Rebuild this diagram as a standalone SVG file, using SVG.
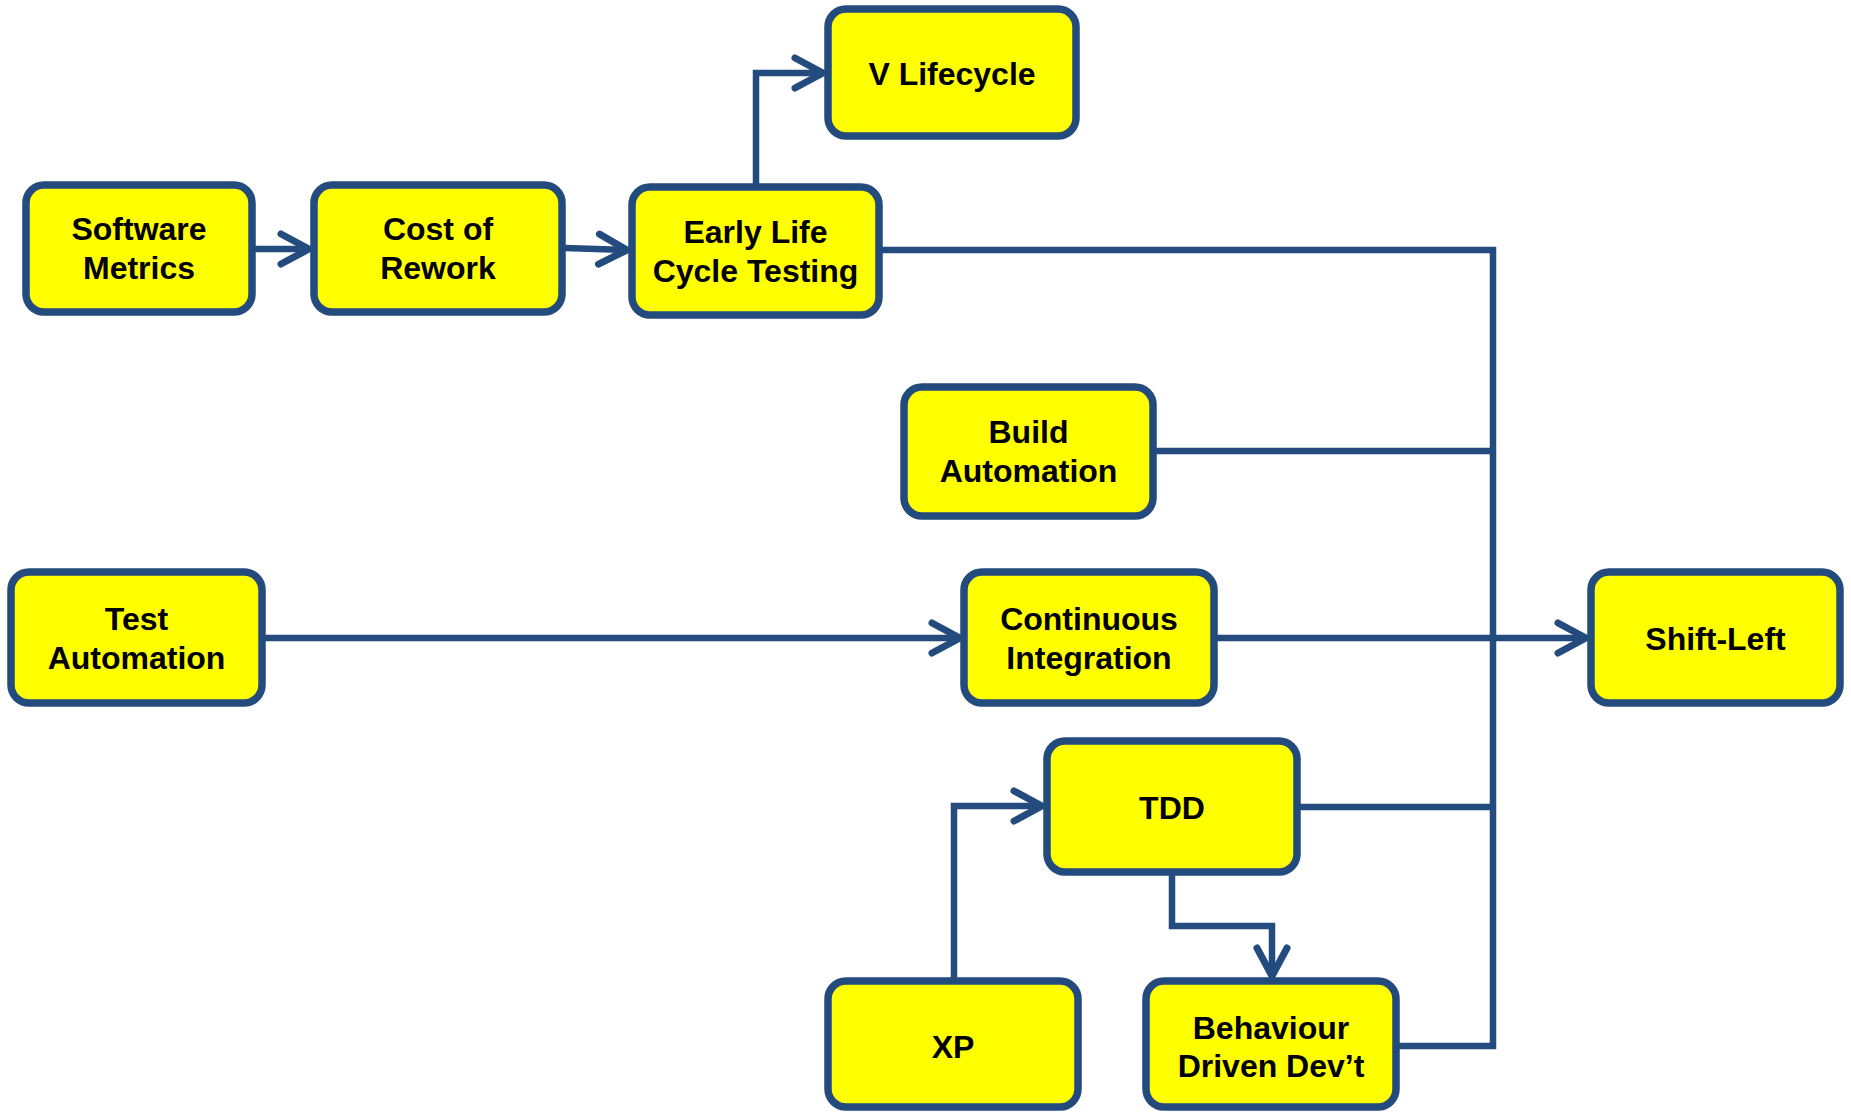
<svg xmlns="http://www.w3.org/2000/svg" width="1851" height="1112" viewBox="0 0 1851 1112">
  <style>
    .box { fill: #FFFF00; stroke: #234B7E; stroke-width: 7.5; }
    .lbl { font-family: "Liberation Sans", Arial, sans-serif; font-weight: bold; font-size: 32px; fill: #000; text-anchor: middle; }
    .wire { fill: none; stroke: #234B7E; stroke-width: 6.5; stroke-linejoin: miter; }
  </style>
  <defs>
    <marker id="arr" viewBox="-34 -20 38 40" refX="0" refY="0" markerWidth="38" markerHeight="40" markerUnits="userSpaceOnUse" orient="auto">
      <path d="M-28,-15 L0,0 L-28,15" fill="none" stroke="#234B7E" stroke-width="7" stroke-linecap="round" stroke-linejoin="round"/>
    </marker>
  </defs>
  <rect width="1851" height="1112" fill="#FFFFFF"/>

  <!-- connectors -->
  <g id="connectors">
    <path class="wire" d="M255,249 L309,249" marker-end="url(#arr)"/>
    <path class="wire" d="M565,248 L627,250" marker-end="url(#arr)"/>
    <path class="wire" d="M756,184 L756,73 L823,73" marker-end="url(#arr)"/>
    <path class="wire" d="M262,638 L960,638" marker-end="url(#arr)"/>
    <path class="wire" d="M1216,638 L1586,638" marker-end="url(#arr)"/>
    <!-- shared bus into Shift-Left -->
    <path class="wire" d="M882,250 L1493,250 L1493,1046 L1398,1046"/>
    <path class="wire" d="M1155,451 L1493,451"/>
    <path class="wire" d="M1298,807 L1493,807"/>
    <path class="wire" d="M954,978 L954,806 L1042,806" marker-end="url(#arr)"/>
    <path class="wire" d="M1172,875 L1172,926 L1272,926 L1272,976" marker-end="url(#arr)"/>
  </g>

  <g id="software-metrics">
    <rect class="box" x="26" y="185" width="226" height="127" rx="18"/>
    <text class="lbl" x="139" y="240">Software</text>
    <text class="lbl" x="139" y="279">Metrics</text>
  </g>
  <g id="cost-of-rework">
    <rect class="box" x="314" y="185" width="248" height="127" rx="18"/>
    <text class="lbl" x="438" y="240">Cost of</text>
    <text class="lbl" x="438" y="279">Rework</text>
  </g>
  <g id="early-life-cycle-testing">
    <rect class="box" x="632" y="187" width="247" height="128" rx="18"/>
    <text class="lbl" x="755.5" y="243">Early Life</text>
    <text class="lbl" x="755.5" y="282">Cycle Testing</text>
  </g>
  <g id="v-lifecycle">
    <rect class="box" x="828" y="9" width="248" height="127" rx="18"/>
    <text class="lbl" x="952" y="85">V Lifecycle</text>
  </g>
  <g id="build-automation">
    <rect class="box" x="904" y="387" width="249" height="129" rx="18"/>
    <text class="lbl" x="1028.5" y="443">Build</text>
    <text class="lbl" x="1028.5" y="482">Automation</text>
  </g>
  <g id="test-automation">
    <rect class="box" x="11" y="572" width="251" height="131" rx="18"/>
    <text class="lbl" x="136.5" y="630">Test</text>
    <text class="lbl" x="136.5" y="669">Automation</text>
  </g>
  <g id="continuous-integration">
    <rect class="box" x="964" y="572" width="250" height="131" rx="18"/>
    <text class="lbl" x="1089" y="630">Continuous</text>
    <text class="lbl" x="1089" y="669">Integration</text>
  </g>
  <g id="shift-left">
    <rect class="box" x="1591" y="572" width="249" height="131" rx="18"/>
    <text class="lbl" x="1715.5" y="650">Shift-Left</text>
  </g>
  <g id="tdd">
    <rect class="box" x="1047" y="741" width="250" height="131" rx="18"/>
    <text class="lbl" x="1172" y="819">TDD</text>
  </g>
  <g id="xp">
    <rect class="box" x="828" y="981" width="250" height="126" rx="18"/>
    <text class="lbl" x="953" y="1058">XP</text>
  </g>
  <g id="behaviour-driven-devt">
    <rect class="box" x="1146" y="981" width="250" height="126" rx="18"/>
    <text class="lbl" x="1271" y="1039">Behaviour</text>
    <text class="lbl" x="1271" y="1077">Driven Dev’t</text>
  </g>
</svg>
